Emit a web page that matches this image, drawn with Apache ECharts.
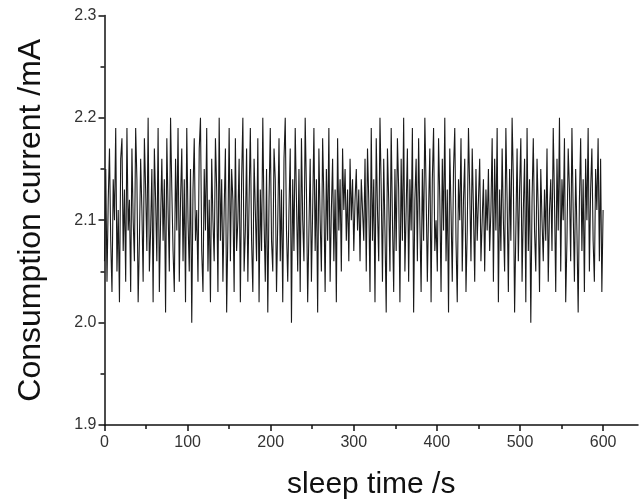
<!DOCTYPE html>
<html>
<head>
<meta charset="utf-8">
<script src="https://cdn.jsdelivr.net/npm/echarts@6/dist/echarts.min.js"></script>
<style>html,body{margin:0;padding:0;background:#fff}#c{width:640px;height:501px}</style>
</head>
<body>
<div id="c"></div>
<script>
var timeStep = 1.5;
var currentValues = [
2.06,2.15,2.04,2.12,2.17,2.08,2.03,2.14,2.10,2.19,
2.05,2.11,2.02,2.16,2.18,2.07,2.13,2.04,2.19,2.09,
2.12,2.03,2.17,2.10,2.06,2.19,2.14,2.02,2.08,2.16,
2.11,2.04,2.18,2.13,2.07,2.20,2.05,2.09,2.15,2.02,
2.17,2.12,2.06,2.19,2.03,2.10,2.16,2.08,2.14,2.01,
2.18,2.11,2.05,2.20,2.13,2.07,2.03,2.16,2.09,2.19,
2.04,2.12,2.17,2.06,2.14,2.02,2.19,2.10,2.05,2.15,
2.00,2.13,2.18,2.08,2.11,2.04,2.17,2.20,2.07,2.03,
2.15,2.09,2.19,2.05,2.12,2.02,2.16,2.10,2.06,2.18,
2.13,2.03,2.20,2.08,2.14,2.04,2.11,2.17,2.01,2.09,
2.19,2.06,2.15,2.12,2.03,2.18,2.07,2.10,2.16,2.02,
2.14,2.20,2.05,2.09,2.17,2.04,2.12,2.19,2.08,2.03,
2.16,2.11,2.06,2.18,2.02,2.13,2.07,2.20,2.10,2.04,
2.15,2.01,2.12,2.19,2.08,2.05,2.17,2.14,2.03,2.10,
2.18,2.06,2.13,2.02,2.16,2.20,2.09,2.04,2.11,2.17,
2.00,2.14,2.07,2.19,2.12,2.05,2.15,2.03,2.18,2.10,
2.06,2.20,2.13,2.02,2.09,2.16,2.04,2.11,2.19,2.07,
2.14,2.01,2.17,2.10,2.05,2.18,2.12,2.03,2.15,2.08,
2.19,2.04,2.11,2.16,2.06,2.13,2.02,2.18,2.09,2.14,
2.05,2.17,2.11,2.15,2.08,2.13,2.06,2.16,2.10,2.14,
2.07,2.12,2.15,2.09,2.13,2.06,2.14,2.11,2.08,2.16,
2.05,2.17,2.12,2.03,2.19,2.08,2.14,2.02,2.18,2.11,
2.06,2.20,2.13,2.04,2.16,2.09,2.01,2.17,2.12,2.05,
2.19,2.10,2.03,2.15,2.07,2.18,2.13,2.02,2.16,2.08,
2.20,2.05,2.11,2.17,2.04,2.14,2.09,2.19,2.01,2.12,
2.16,2.06,2.18,2.10,2.03,2.15,2.08,2.20,2.13,2.04,
2.11,2.17,2.02,2.14,2.19,2.07,2.10,2.05,2.18,2.12,
2.03,2.16,2.09,2.20,2.06,2.13,2.01,2.17,2.11,2.04,
2.15,2.19,2.08,2.02,2.14,2.10,2.18,2.05,2.12,2.16,
2.03,2.09,2.19,2.13,2.06,2.17,2.11,2.04,2.15,2.08,
2.12,2.16,2.06,2.10,2.14,2.05,2.13,2.09,2.15,2.07,
2.11,2.18,2.04,2.16,2.09,2.19,2.02,2.13,2.07,2.17,
2.10,2.05,2.19,2.12,2.03,2.15,2.08,2.20,2.14,2.01,
2.09,2.17,2.06,2.13,2.18,2.04,2.11,2.16,2.02,2.19,
2.07,2.14,2.00,2.12,2.18,2.09,2.05,2.16,2.11,2.03,
2.15,2.10,2.06,2.13,2.08,2.17,2.04,2.11,2.14,2.07,
2.19,2.12,2.03,2.16,2.09,2.20,2.05,2.14,2.10,2.18,
2.02,2.08,2.17,2.13,2.06,2.19,2.11,2.04,2.15,2.09,
2.01,2.12,2.18,2.07,2.14,2.03,2.16,2.10,2.19,2.05,
2.13,2.17,2.08,2.04,2.15,2.11,2.18,2.06,2.16,2.03,
2.11
];
var xMajorTicks = [0,100,200,300,400,500,600];
var xMinorTicks = [50,150,250,350,450,550];

var points = currentValues.map(function(v,i){ return [i*timeStep, v]; });

var chart = echarts.init(document.getElementById('c'), null, {renderer:'canvas'});
var font = 'Liberation Sans, Arial, Helvetica, sans-serif';
chart.setOption({
  animation:false,
  backgroundColor:'#fff',
  grid:{left:104.5, right:2, top:15.5, bottom:76, containLabel:false, outerBoundsMode:'none'},
  xAxis:[{
    type:'value', min:0, max:642, interval:100,
    axisLine:{show:true, lineStyle:{color:'#111', width:1.5}},
    axisTick:{show:true, length:6, customValues:xMajorTicks, lineStyle:{color:'#111', width:1.5}},
    axisLabel:{customValues:xMajorTicks, margin:10, fontSize:16, color:'#333', fontFamily:font},
    splitLine:{show:false},
    name:'sleep time /s', nameLocation:'middle', nameGap:45,
    nameTextStyle:{fontSize:30, color:'#111', fontFamily:font}
  },{
    type:'value', min:0, max:642, gridIndex:0, position:'bottom',
    axisLine:{show:false},
    axisTick:{show:true, length:4, customValues:xMinorTicks, lineStyle:{color:'#111', width:1.5}},
    axisLabel:{show:false},
    splitLine:{show:false}
  }],
  yAxis:{
    type:'value', min:1.9, max:2.3, interval:0.1,
    axisLine:{show:true, lineStyle:{color:'#111', width:1.5}},
    axisTick:{show:true, length:6, lineStyle:{color:'#111', width:1.5}},
    minorTick:{show:true, splitNumber:2, length:4, lineStyle:{color:'#111', width:1.5}},
    axisLabel:{margin:8, fontSize:16, color:'#333', fontFamily:font,
      formatter:function(v){ return v.toFixed(1); }},
    splitLine:{show:false},
    name:'Consumption current /mA', nameLocation:'middle', nameGap:57,
    nameTextStyle:{fontSize:32, color:'#111', fontFamily:font}
  },
  series:[{
    type:'line', xAxisIndex:0, data:points, showSymbol:false, symbol:'none',
    lineStyle:{color:'#1a1a1a', width:1.1}, silent:true
  }]
});
</script>
</body>
</html>
